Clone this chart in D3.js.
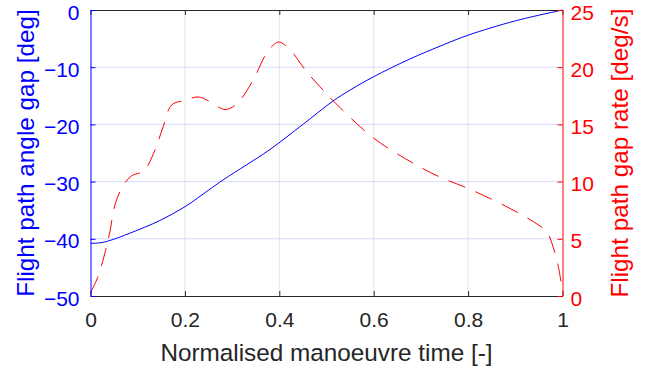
<!DOCTYPE html>
<html>
  <head>
    <meta charset="utf-8">
    <script src="https://d3js.org/d3.v7.min.js"></script>
    <style>
      body { margin: 0; background: #fff; }
      text { font-family: "Liberation Sans", Arial, sans-serif; }
    </style>
  </head>
  <body>
    <div id="chart"></div>
    <script>
      // normalised time and the two curves
      var angleTime = [0, 0.02, 0.041, 0.084, 0.147, 0.2, 0.25, 0.281, 0.33, 0.38, 0.45, 0.514, 0.55, 0.599, 0.673, 0.75, 0.8, 0.9, 1.0];
      var angleGap  = [-40.8, -40.7, -40.3, -39.0, -36.8, -34.4, -31.5, -29.7, -27.1, -24.4, -20.0, -15.9, -14.0, -11.7, -8.7, -6.0, -4.4, -1.9, 0];

      var rateTime = [0, 0.015, 0.032, 0.041, 0.052, 0.07, 0.087, 0.112, 0.122, 0.137, 0.154, 0.172, 0.2, 0.228, 0.253, 0.285, 0.31, 0.345, 0.373, 0.398, 0.423, 0.458, 0.486, 0.514, 0.6, 0.684, 0.74, 0.8, 0.882, 0.938, 0.967, 0.98, 0.991, 1.0];
      var rateGap  = [0.3, 1.6, 4.0, 5.6, 8.0, 9.7, 10.5, 10.9, 11.45, 12.8, 14.8, 16.7, 17.1, 17.4, 17.0, 16.3, 16.8, 18.9, 21.2, 22.2, 21.5, 19.6, 18.3, 17.07, 13.8, 11.6, 10.4, 9.4, 7.8, 6.5, 5.6, 4.3, 2.6, 0.4];

      var xTicks = [0, 0.2, 0.4, 0.6, 0.8, 1];
      var leftTicks = [0, -10, -20, -30, -40, -50];
      var rightTicks = [0, 5, 10, 15, 20, 25];

      var W = 655, H = 374;
      var margin = {top: 10, right: 92.5, bottom: 78, left: 90.5};
      var width = W - margin.left - margin.right,
          height = H - margin.top - margin.bottom;
      var tickFont = 21, labelFont = 24.3;

      var svg = d3.select("#chart").append("svg")
          .attr("width", W).attr("height", H)
        .append("g")
          .attr("transform", "translate(" + margin.left + "," + margin.top + ")");

      var x = d3.scaleLinear().domain([0, 1]).range([0, width]);
      var yL = d3.scaleLinear().domain([-50, 0]).range([height, 0]);
      var yR = d3.scaleLinear().domain([0, 25]).range([height, 0]);

      // grid
      svg.append("g").selectAll("line")
        .data(xTicks.slice(1, -1)).enter().append("line")
          .attr("x1", d => x(d)).attr("x2", d => x(d))
          .attr("y1", 0).attr("y2", height)
          .attr("stroke", "#e6e6e6").attr("stroke-width", 1);
      svg.append("g").selectAll("line")
        .data(leftTicks.slice(1, -1)).enter().append("line")
          .attr("x1", 0).attr("x2", width)
          .attr("y1", d => yL(d)).attr("y2", d => yL(d))
          .attr("stroke", "#d9d9ff").attr("stroke-width", 1);

      // lines
      var lineL = d3.line().x((d, i) => x(angleTime[i])).y(d => yL(d)).curve(d3.curveCatmullRom.alpha(0.5));
      var lineR = d3.line().x((d, i) => x(rateTime[i])).y(d => yR(d)).curve(d3.curveCatmullRom.alpha(0.5));

      svg.append("path").datum(rateGap)
        .attr("d", lineR).attr("fill", "none")
        .attr("stroke", "#ff0000").attr("stroke-width", 1)
        .attr("stroke-dasharray", "18,11");

      svg.append("path").datum(angleGap)
        .attr("d", lineL).attr("fill", "none")
        .attr("stroke", "#0000ff").attr("stroke-width", 1);

      // axes
      var xAxis = svg.append("g")
        .attr("transform", "translate(0," + height + ")")
        .call(d3.axisBottom(x).tickValues(xTicks).tickFormat(d3.format("")).tickSizeInner(-5).tickSizeOuter(0).tickPadding(16));
      xAxis.select(".domain").attr("stroke", "#262626");
      xAxis.selectAll(".tick line").attr("stroke", "#262626");
      xAxis.selectAll("text").attr("fill", "#262626").attr("font-size", tickFont).attr("font-family", "Liberation Sans, Arial, sans-serif");

      var xTop = svg.append("g")
        .call(d3.axisTop(x).tickValues(xTicks).tickFormat("").tickSizeInner(-5).tickSizeOuter(0));
      xTop.select(".domain").attr("stroke", "#262626");
      xTop.selectAll(".tick line").attr("stroke", "#262626");

      var left = svg.append("g")
        .call(d3.axisLeft(yL).tickValues(leftTicks).tickSizeInner(-5).tickSizeOuter(0).tickPadding(11));
      left.select(".domain").attr("stroke", "#0000ff");
      left.selectAll(".tick line").attr("stroke", "#0000ff");
      left.selectAll("text").attr("fill", "#0000ff").attr("font-size", tickFont).attr("dy", "0.43em").attr("font-family", "Liberation Sans, Arial, sans-serif");

      var right = svg.append("g")
        .attr("transform", "translate(" + width + ",0)")
        .call(d3.axisRight(yR).tickValues(rightTicks).tickSizeInner(-5).tickSizeOuter(0).tickPadding(8));
      right.select(".domain").attr("stroke", "#ff0000");
      right.selectAll(".tick line").attr("stroke", "#ff0000");
      right.selectAll("text").attr("fill", "#ff0000").attr("font-size", tickFont).attr("dy", "0.43em").attr("font-family", "Liberation Sans, Arial, sans-serif");

      // labels
      svg.append("text")
        .attr("x", width / 2).attr("y", 351)
        .attr("text-anchor", "middle").attr("font-size", labelFont).attr("fill", "#262626")
        .text("Normalised manoeuvre time [-]");

      svg.append("text")
        .attr("transform", "translate(" + (34 - margin.left) + "," + (height / 2) + ") rotate(-90)")
        .attr("text-anchor", "middle").attr("font-size", labelFont).attr("fill", "#0000ff")
        .text("Flight path angle gap [deg]");

      svg.append("text")
        .attr("transform", "translate(" + (628 - margin.left) + "," + (height / 2) + ") rotate(-90)")
        .attr("text-anchor", "middle").attr("font-size", labelFont).attr("fill", "#ff0000")
        .text("Flight path gap rate [deg/s]");
    </script>
  </body>
</html>
